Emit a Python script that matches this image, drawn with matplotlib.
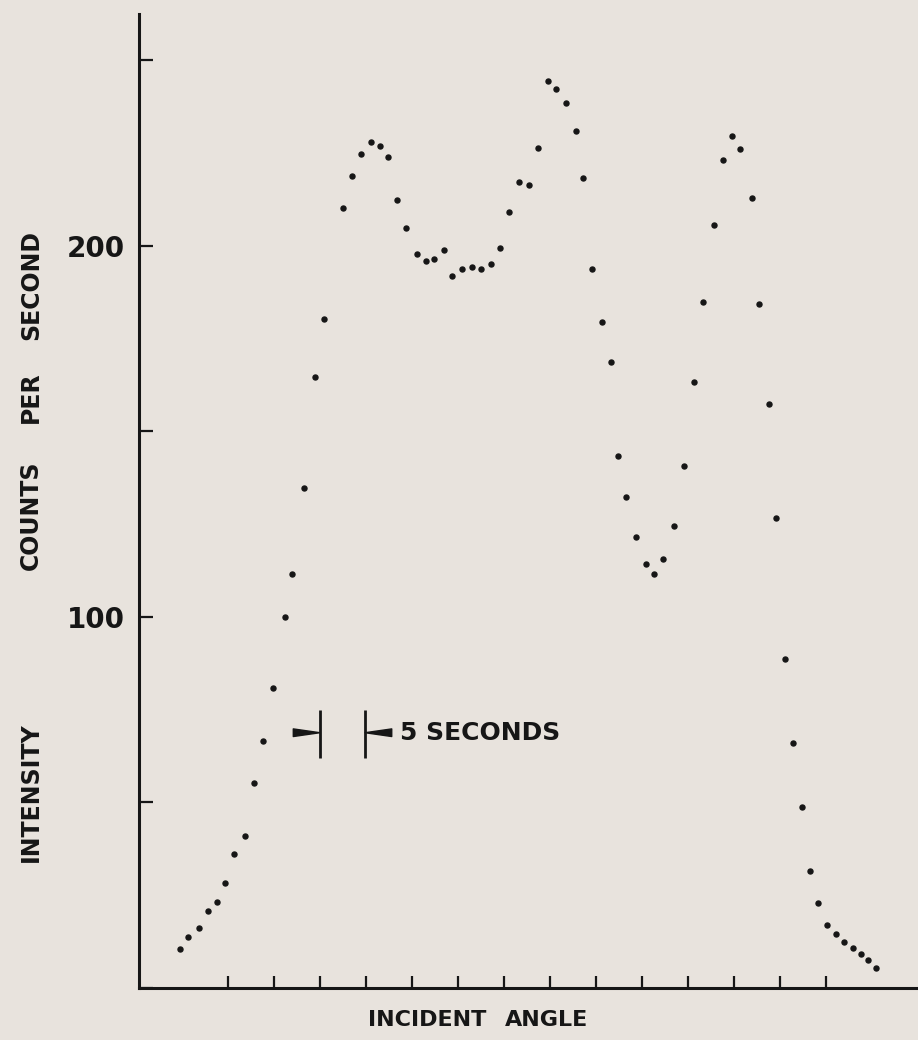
import matplotlib
matplotlib.use("Agg")
import matplotlib.pyplot as plt

# scan time in seconds along the angle sweep, and measured intensity
seconds = [4.8, 5.7, 6.8, 7.8, 8.8, 9.7, 10.7, 11.8, 12.8, 13.8,
           14.9, 16.2, 17.0, 18.3, 19.5, 20.4, 22.5, 23.5, 24.5, 25.6,
           26.5, 27.4, 28.4, 29.4, 30.5, 31.5, 32.4, 33.5, 34.4, 35.4,
           36.5, 37.5, 38.6, 39.6, 40.5, 41.6, 42.7, 43.7, 44.8, 45.6,
           46.7, 47.8, 48.6, 49.6, 50.7, 51.6, 52.4, 53.3, 54.4, 55.4,
           56.3, 57.3, 58.5, 59.6, 60.7, 61.6, 62.8, 63.8, 64.8, 65.7,
           67.0, 67.7, 68.8, 69.6, 70.5, 71.4, 72.4, 73.3, 74.1, 75.1,
           76.1, 77.0, 77.9, 78.8, 79.6, 80.4]
counts = [10.5, 13.7, 16.2, 20.7, 23.3, 28.2, 36.1, 41.0, 55.3, 66.7,
          80.9, 100.0, 111.5, 134.8, 164.7, 180.3, 210.2, 218.9, 224.9, 228.1,
          227.0, 224.0, 212.5, 204.7, 197.9, 195.8, 196.4, 198.8, 191.9, 193.8,
          194.3, 193.8, 195.2, 199.5, 209.1, 217.2, 216.5, 226.4, 244.5, 242.4,
          238.6, 230.9, 218.4, 193.7, 179.4, 168.7, 143.3, 132.3, 121.5, 114.3,
          111.5, 115.7, 124.5, 140.7, 163.3, 184.8, 205.5, 223.1, 229.6, 226.1,
          213.0, 184.3, 157.4, 126.7, 88.8, 66.0, 48.7, 31.6, 23.0, 17.0,
          14.5, 12.5, 10.8, 9.2, 7.5, 5.5]

y_ticks = [0, 50, 100, 150, 200, 250]
y_labels = ["", "", "100", "", "200", ""]
x_ticks = list(range(10, 80, 5))

ylabel_words = ["INTENSITY", "COUNTS", "PER", "SECOND"]
ylabel_pos = [792, 515, 397, 285]   # figure pixels from top

paper = "#e8e3dd"
ink = "#161616"

fig = plt.figure(figsize=(9.18, 10.4), dpi=100, facecolor=paper)
ax = fig.add_axes([139 / 918, 52 / 1040, 1 - 139 / 918, 974 / 1040])
ax.set_facecolor(paper)

ax.plot(seconds, counts, "o", ms=3.6, color=ink, mec=ink)

ax.set_xlim(0.33, 85.0)
ax.set_ylim(0, 262.5)
for s in ["top", "right"]:
    ax.spines[s].set_visible(False)
for s in ["left", "bottom"]:
    ax.spines[s].set_linewidth(2.2)
    ax.spines[s].set_color(ink)

ax.set_yticks(y_ticks)
ax.set_yticklabels(y_labels)
ax.set_xticks(x_ticks)
ax.set_xticklabels([])
ax.tick_params(axis="y", direction="in", length=10, width=1.6, color=ink,
               pad=10, labelsize=20, labelcolor=ink)
ax.tick_params(axis="x", direction="in", length=9, width=1.6, color=ink)
for lbl in ax.get_yticklabels():
    lbl.set_fontweight("bold")

# 5-second timing marker
wedge = dict(arrowstyle="wedge,tail_width=0.55,shrink_factor=0.5",
             mutation_scale=10, fc=ink, ec=ink, shrinkA=0, shrinkB=0)
ax.vlines([20.0, 24.9], 62.0, 74.9, color=ink, lw=2.0)
ax.annotate("", xy=(20.0, 68.8), xytext=(17.1, 68.8), arrowprops=wedge)
ax.annotate("", xy=(24.9, 68.8), xytext=(27.8, 68.8), arrowprops=wedge)
ax.text(28.7, 68.8, "5 SECONDS", fontsize=18, fontweight="bold",
        color=ink, va="center", ha="left")

# axis titles
for word, ypix in zip(ylabel_words, ylabel_pos):
    fig.text(31 / 918, 1 - ypix / 1040, word, rotation=90, fontsize=17,
             fontweight="bold", color=ink, ha="center", va="center")
fig.text(427 / 918, 1 - 1020 / 1040, "INCIDENT", fontsize=16,
         fontweight="bold", color=ink, ha="center", va="center")
fig.text(547 / 918, 1 - 1020 / 1040, "ANGLE", fontsize=16,
         fontweight="bold", color=ink, ha="center", va="center")

fig.savefig("out.png", dpi=100, facecolor=paper)
